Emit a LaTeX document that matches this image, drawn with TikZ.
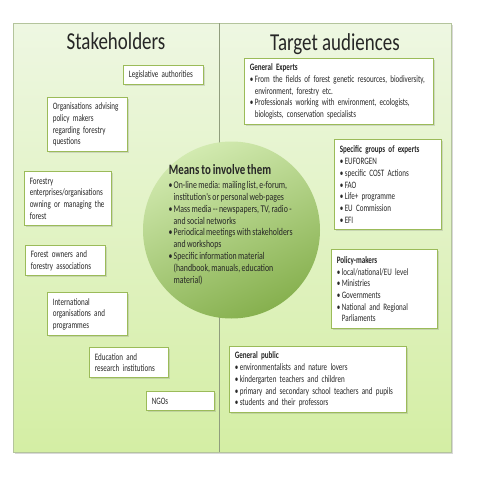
\documentclass[tikz,border=0pt]{standalone}
\usepackage{fontspec}
\setmainfont{Carlito}[FakeStretch=0.72, WordSpace=0.7]
\newfontfamily\circfont{Carlito}[FakeStretch=0.76, WordSpace=0.8]
\newfontfamily\headfont{Carlito}[FakeStretch=0.78]
\usetikzlibrary{shadows}
\hyphenpenalty=10000
\exhyphenpenalty=10000
\definecolor{boxline}{HTML}{9BBB59}
\definecolor{frame}{HTML}{B4C49C}
\definecolor{bgtop}{HTML}{EEF7E2}
\definecolor{bgbot}{HTML}{D4EEA4}
\definecolor{circlight}{HTML}{D2EAB0}
\definecolor{circdark}{HTML}{86B04E}
\definecolor{txt}{HTML}{262626}
\newcommand{\bul}{\makebox[5pt][l]{•}}
\newcommand{\ind}{\hspace*{5pt}}
\tikzset{
  boxnode/.style={draw=boxline, line width=1.3pt, fill=white, anchor=north west,
    align=left, inner xsep=4.5pt, inner ysep=2pt, text=txt,
    font=\fontsize{9.8}{11.7}\selectfont,
    drop shadow={opacity=0.25, shadow xshift=1pt, shadow yshift=-1pt}},
  titlenode/.style={anchor=base, text=txt, font=\headfont\fontsize{24.3}{28}\selectfont},
}
\newcommand{\bx}[6]{\node[boxnode, text width=#4pt-10.3pt, minimum width=#4pt, minimum height=#5pt] (#1) at (#2,#3) {\hyphenpenalty=10000 #6};}
\begin{document}
\begin{tikzpicture}[x=1pt,y=-1pt]
\useasboundingbox (0,0) rectangle (480,480);
\fill[white] (0,0) rectangle (480,480);
% outer frame
\shade[top color=bgtop, bottom color=bgbot, draw=frame, line width=0.8pt,
  drop shadow={opacity=0.3, shadow xshift=1.5pt, shadow yshift=-1.5pt}] (13,23) rectangle (451,452);
\coordinate (divtop) at (219.5,23);
\coordinate (divbot) at (219.5,452);
\draw[color=frame!80!black, line width=0.8pt] (divtop) -- (divbot);
% titles
\node[titlenode] (stk) at (116,49) {Stakeholders};
\node[titlenode] (tga) at (335,50) {Target audiences};
% circle
\node[circle, minimum size=177pt, inner sep=0pt, shading=axis, top color=circlight,
  bottom color=circdark, shading angle=25] (means) at (231.5,230) {};
\node[anchor=base, text=txt, font=\circfont\fontsize{14.3}{16}\bfseries\selectfont] (meanstitle) at (220,174) {Means to involve them};
\node[anchor=west, align=left, inner sep=0pt, text=txt, font=\circfont\fontsize{10.3}{11.85}\selectfont] (meanstext) at (168.5,233)
{\bul On-line media: mailing list, e-forum,\\
 \ind institution's or personal web-pages\\
 \bul Mass media -- newspapers, TV, radio -\\
 \ind and social networks\\
 \bul Periodical meetings with stakeholders\\
 \ind and workshops\\
 \bul Specific information material\\
 \ind (handbook, manuals, education\\
 \ind material)};
% stakeholder boxes
\bx{leg}{123}{65}{80}{19}{Legislative authorities}
\bx{org}{47}{97}{80}{54}{Organisations advising\\policy makers\\regarding forestry\\questions}
\bx{fe}{24}{171}{87}{54}{Forestry\\enterprises/organisations\\owning or managing the\\forest}
\bx{fo}{25}{245}{80}{30}{Forest owners and\\forestry associations}
\bx{io}{47}{292}{80}{43}{International\\organisations and\\programmes}
\bx{ed}{89}{347}{79}{30}{Education and\\research institutions}
\bx{ngo}{146}{391}{68}{19}{NGOs}
% target audience boxes
\bx{ge}{244}{58}{189}{66}{\textbf{General Experts}\\
 \bul From the fields of forest genetic resources, biodiversity,\\
 \ind environment, forestry etc.\\
 \bul Professionals working with environment, ecologists,\\
 \ind biologists, conservation specialists}
\bx{sg}{334}{139}{107}{90}{\textbf{Specific groups of experts}\\
 \bul EUFORGEN\\
 \bul specific COST Actions\\
 \bul FAO\\
 \bul Life+ programme\\
 \bul EU Commission\\
 \bul EFI}
\bx{pm}{331}{249}{106}{79}{\textbf{Policy-makers}\\
 \bul local/national/EU level\\
 \bul Ministries\\
 \bul Governments\\
 \bul National and Regional\\
 \ind Parliaments}
\bx{gp}{229}{346}{177}{66}{\textbf{General public}\\
 \bul environmentalists and nature lovers\\
 \bul kindergarten teachers and children\\
 \bul primary and secondary school teachers and pupils\\
 \bul students and their professors}
\end{tikzpicture}
\end{document}
